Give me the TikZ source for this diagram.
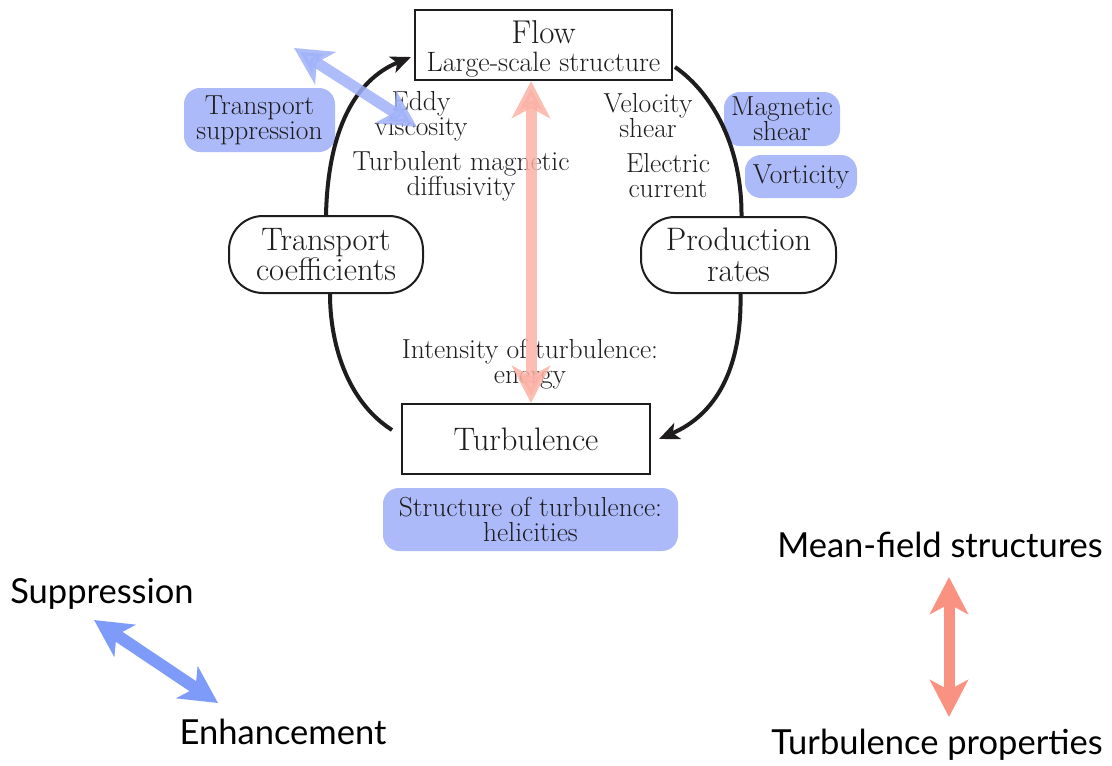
\documentclass[tikz,border=0pt]{standalone}
\usepackage{fontspec}
\newfontfamily\gill{Lato}
\usetikzlibrary{arrows.meta}
\definecolor{boxblue}{RGB}{172,186,250}
\definecolor{arrblue}{RGB}{160,178,250}
\definecolor{arrblue2}{RGB}{127,155,250}
\definecolor{arrpink}{RGB}{252,178,166}
\definecolor{arrpink2}{RGB}{250,146,130}
\definecolor{ink}{RGB}{30,28,28}
\tikzset{
  mainbox/.style={draw=ink, line width=2pt, inner sep=0pt, font=\fontsize{32.5}{30.5}\selectfont, align=center, text=ink},
  roundbox/.style={mainbox, rounded corners=34pt},
  bluebox/.style={fill=boxblue, rounded corners=16pt, inner sep=0pt, font=\fontsize{27.5}{25}\selectfont, align=center, text=ink},
  smalltext/.style={font=\fontsize{27.5}{25}\selectfont, align=center, text=ink, inner sep=0pt},
  sanstext/.style={font=\gill\fontsize{34.5}{34}\selectfont, inner sep=0pt},
  cycle/.style={draw=ink, line width=4pt},
  cyclearrow/.style={cycle, -{Stealth[length=20pt,width=17pt,inset=5pt]}},
  fatarrow/.style={line width=11pt, {Stealth[length=37pt,width=38pt,inset=10pt]}-{Stealth[length=37pt,width=38pt,inset=10pt]}},
}
\begin{document}
\begin{tikzpicture}[x=1pt,y=-1pt]
\useasboundingbox[fill=white] (0,0) rectangle (1112,766);

% main nodes
\node[mainbox, minimum width=257pt, minimum height=70pt] (flow) at (543.5,45) {};
\node[text=ink, font=\fontsize{33}{30}\selectfont, inner sep=0pt] (flowt) at (543.5,32) {Flow};
\node[text=ink, font=\fontsize{28}{25}\selectfont, inner sep=0pt] (flows) at (543.5,65) {Large-scale structure};
\node[mainbox, minimum width=248pt, minimum height=70pt] (turb) at (526,439) {Turbulence};
\node[roundbox, minimum width=194pt, minimum height=77pt] (tc) at (326,254.5) {Transport\\coefficients};
\node[roundbox, minimum width=195pt, minimum height=76pt] (pr) at (738.5,255) {Production\\rates};

% blue boxes
\node[bluebox, minimum width=151pt, minimum height=64pt] (ts) at (259.5,120) {Transport\\suppression};
\node[bluebox, minimum width=116pt, minimum height=54pt] (ms) at (782,119) {Magnetic\\shear};
\node[bluebox, minimum width=112pt, minimum height=43pt] (vort) at (801,176.5) {Vorticity};
\node[bluebox, minimum width=295pt, minimum height=63pt, font=\fontsize{27.5}{25.5}\selectfont] (st) at (530.5,519.5) {Structure of turbulence:\\helicities};

% cycle curves
\draw[cyclearrow] (tc.north) .. controls (328,130) and (355,80) .. ([yshift=-12pt,xshift=-3pt]flow.west);
\draw[cycle] ([yshift=-22pt,xshift=2pt]flow.east) .. controls (715,95) and (742,150) .. ([xshift=3pt]pr.north);
\draw[cyclearrow] ([xshift=2pt]pr.south) .. controls (742,370) and (715,415) .. ([xshift=8pt]turb.east);
\draw[cycle] ([xshift=-9pt,yshift=9pt]turb.west) .. controls (345,400) and (330,340) .. ([xshift=4pt]tc.south);

% labels
\node[smalltext] (eddy) at (421,116) {Eddy\\viscosity};
\node[smalltext] (tmd) at (461,176) {Turbulent magnetic\\diffusivity};
\node[smalltext] (vs) at (648,116) {Velocity\\shear};
\node[smalltext] (ec) at (668,176) {Electric\\current};
\node[smalltext] (ite) at (530,364) {Intensity of turbulence:\\energy};

% fat arrows
\draw[fatarrow, arrpink, opacity=0.85] ([xshift=-12.5pt]flow.south) -- ([xshift=5pt]turb.north);
\coordinate (b1) at (294,48);
\coordinate (b2) at (417,127);
\draw[fatarrow, arrblue, opacity=0.85] (b1) -- (b2);

% legend
\node[sanstext] (supp) at (102,594) {Suppression};
\node[sanstext] (enh) at (283,732) {Enhancement};
\coordinate (c1) at (94,620);
\coordinate (c2) at (218,703);
\draw[fatarrow, arrblue2, line width=12pt] (c1) -- (c2);
\node[sanstext] (mfs) at (940,545) {Mean-field structures};
\node[sanstext] (tp) at (937,745) {Turbulence properties};
\coordinate (d1) at (949,577);
\coordinate (d2) at (949,717);
\draw[fatarrow, arrpink2] (d1) -- (d2);
\end{tikzpicture}
\end{document}
